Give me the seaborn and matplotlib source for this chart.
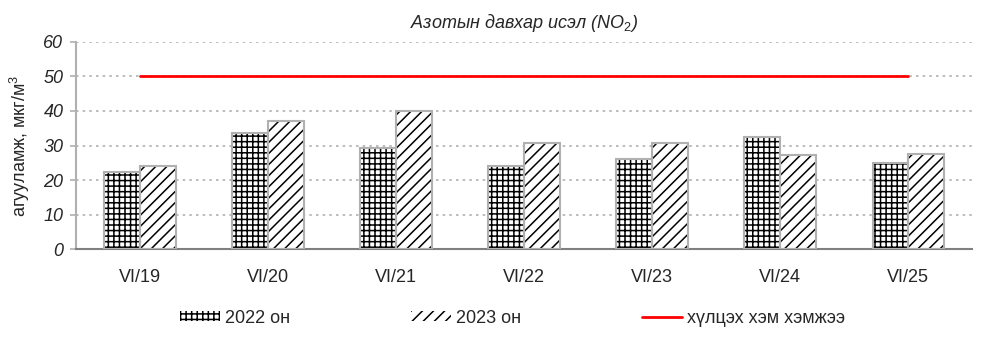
import matplotlib
matplotlib.use("Agg")
import matplotlib.pyplot as plt
import seaborn as sns
import pandas as pd
from matplotlib.patches import Rectangle, Patch
from matplotlib.lines import Line2D

categories = ["VI/19", "VI/20", "VI/21", "VI/22", "VI/23", "VI/24", "VI/25"]
values_2022 = [22.3, 33.5, 29.3, 24.0, 26.0, 32.5, 25.0]
values_2023 = [24.0, 37.0, 40.0, 30.7, 30.7, 27.2, 27.5]
limit_value = [50, 50, 50, 50, 50, 50, 50]
series_names = ["2022 он", "2023 он"]
limit_name = "хүлцэх хэм хэмжээ"
title = "Азотын давхар исэл (NO$_2$)"
ylabel = "агууламж, мкг/м$^3$"

df = pd.DataFrame({
    "cat": categories * 2,
    "val": values_2022 + values_2023,
    "series": [series_names[0]] * len(categories) + [series_names[1]] * len(categories),
})

sns.set_theme(style="white")
plt.rcParams["font.family"] = ["Liberation Sans", "DejaVu Sans"]
plt.rcParams["hatch.linewidth"] = 1.1
plt.rcParams["mathtext.fontset"] = "custom"
plt.rcParams["mathtext.rm"] = "Liberation Sans"
plt.rcParams["mathtext.it"] = "Liberation Sans:italic"

fig = plt.figure(figsize=(9.84, 3.44), dpi=100)
ax = fig.add_axes([0.0772, 0.276, 0.911, 0.602])

sns.barplot(data=df, x="cat", y="val", hue="series", order=categories,
            hue_order=series_names, palette=["white", "white"], width=0.56,
            gap=0, ax=ax, legend=False, errorbar=None, saturation=1)

hatches = ["+++", "///"]
n = len(categories)
bars = [p for p in ax.patches if isinstance(p, Rectangle)]
for i, p in enumerate(bars[:2 * n]):
    s = i // n
    p.set_hatch(hatches[s])
    p.set_edgecolor("black")
    p.set_linewidth(0)
    ax.add_patch(Rectangle(p.get_xy(), p.get_width(), p.get_height(),
                           fill=False, edgecolor="#b0b0b0", linewidth=1.5, zorder=3))

sns.lineplot(x=list(range(n)), y=limit_value, color="#ff0000", linewidth=2, ax=ax)

ax.set_xlim(-0.5, n - 0.5)
ax.set_ylim(0, 60)
ax.set_yticks(range(0, 61, 10))
ax.set_xticks(range(n))
ax.set_xticklabels(categories, fontsize=13)
for t in ax.get_yticklabels():
    t.set_fontstyle("italic")
    t.set_fontsize(13)
ax.set_xlabel("")
ax.set_ylabel(ylabel, fontsize=13, labelpad=8)
ax.grid(axis="y", color="#b0b0b0", linestyle=(0, (1.5, 2.5)), linewidth=1.2)
ax.set_axisbelow(True)
for side in ["top", "right"]:
    ax.spines[side].set_visible(False)
ax.spines["left"].set_color("#b0b0b0")
ax.spines["left"].set_linewidth(1.5)
ax.spines["bottom"].set_color("#808080")
ax.spines["bottom"].set_linewidth(1.5)
ax.tick_params(axis="y", left=True, length=4, color="#b0b0b0", width=1.2, pad=5)
ax.tick_params(axis="x", bottom=False, pad=8)
ax.set_title(title, fontsize=13, fontstyle="italic", pad=10)

handles = [
    Patch(facecolor="white", edgecolor="black", hatch=hatches[0], linewidth=0),
    Patch(facecolor="white", edgecolor="black", hatch=hatches[1], linewidth=0),
    Line2D([0], [0], color="#ff0000", linewidth=2),
]
fig.legend(handles, series_names + [limit_name], loc="center", ncol=3,
           bbox_to_anchor=(0.521, 0.075), frameon=False, fontsize=13,
           columnspacing=6.7, handlelength=2.2, handleheight=0.5, handletextpad=0.3)

fig.savefig("out.png", dpi=100)
